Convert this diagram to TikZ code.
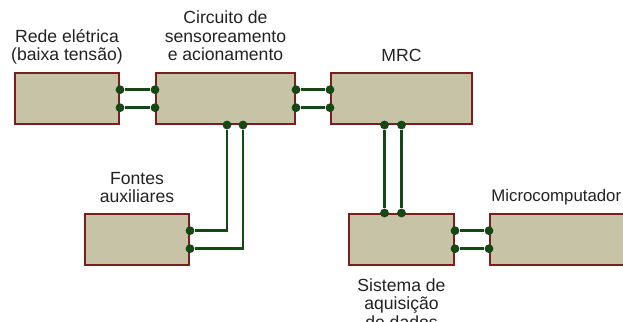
\documentclass[tikz,border=0pt]{standalone}
\usepackage{fontspec}
\setmainfont{Liberation Sans}
\usetikzlibrary{positioning}
\usepackage{xcolor}
\definecolor{khaki}{HTML}{C6C3A6}
\definecolor{maroon}{HTML}{7A1E1E}
\definecolor{wiregreen}{HTML}{164816}
\definecolor{inkgrey}{HTML}{222222}

\begin{document}
\begin{tikzpicture}[
  x=0.5pt, y=-0.5pt,
  block/.style={rectangle, draw=maroon, fill=khaki, line width=1pt,
    minimum height=25.5pt, inner sep=0pt},
  pin/.style={circle, fill=wiregreen, inner sep=0pt, minimum size=4.4pt},
  wire/.style={draw=wiregreen, line width=1.3pt},
  label/.style={font=\fontsize{8.8}{9.3}\selectfont, align=center,
    text=inkgrey, inner sep=0pt, text depth=0pt},
]
\useasboundingbox (0,0) rectangle (623,322);

% === Top row ===
\node[block, minimum width=52pt, anchor=north west] (rede) at (14,72) {};
\node[block, minimum width=69.5pt, right=17.5pt of rede] (circuito) {};
\node[block, minimum width=70.5pt, right=17pt of circuito] (mrc) {};

% === Bottom row ===
\node[block, minimum width=52pt, anchor=north west] (fontes) at (84,213) {};
\node[block, minimum width=52.5pt, anchor=north west] (aquisicao) at (348,213) {};
\node[block, minimum width=81pt, anchor=north west] (micro) at (489,213) {};

% === Labels ===
\node[label, above=5.5pt of rede] (lrede) {Rede elétrica\\(baixa tensão)};
\node[label, above=5.5pt of circuito] (lcircuito) {Circuito de\\sensoreamento\\e acionamento};
\node[label, above=5pt of mrc] (lmrc) {MRC};
\node[label, above=5pt of fontes] (lfontes) {Fontes\\auxiliares};
\node[label, font=\fontsize{8.4}{9.3}\selectfont, above=5.5pt of micro.north west,
  anchor=south west, xshift=1pt] (lmicro) {Microcomputador};
\node[label, below=6pt of aquisicao] (laquisicao) {Sistema de\\aquisição\\de dados};

% === Pins ===
\node[pin] (rede1) at ([yshift=4.4pt]rede.east) {};
\node[pin] (rede2) at ([yshift=-4.6pt]rede.east) {};
\node[pin] (circ1) at ([yshift=4.4pt]circuito.west) {};
\node[pin] (circ2) at ([yshift=-4.6pt]circuito.west) {};
\node[pin] (circ3) at ([yshift=4.4pt]circuito.east) {};
\node[pin] (circ4) at ([yshift=-4.6pt]circuito.east) {};
\node[pin] (circ5) at ([xshift=0.75pt]circuito.south) {};
\node[pin] (circ6) at ([xshift=8.75pt]circuito.south) {};
\node[pin] (mrc1) at ([yshift=4.4pt]mrc.west) {};
\node[pin] (mrc2) at ([yshift=-4.6pt]mrc.west) {};
\node[pin] (mrc3) at ([xshift=-8.5pt]mrc.south) {};
\node[pin] (mrc4) at (mrc.south) {};
\node[pin] (font1) at ([yshift=4.4pt]fontes.east) {};
\node[pin] (font2) at ([yshift=-4.6pt]fontes.east) {};
\node[pin] (aqui1) at ([xshift=-8.5pt]aquisicao.north) {};
\node[pin] (aqui2) at (aquisicao.north) {};
\node[pin] (aqui3) at ([yshift=4.4pt]aquisicao.east) {};
\node[pin] (aqui4) at ([yshift=-4.6pt]aquisicao.east) {};
\node[pin] (micro1) at ([yshift=4.4pt]micro.west) {};
\node[pin] (micro2) at ([yshift=-4.6pt]micro.west) {};

% === Wires ===
\draw[wire] (rede1) -- (circ1);
\draw[wire] (rede2) -- (circ2);
\draw[wire] (circ3) -- (mrc1);
\draw[wire] (circ4) -- (mrc2);
\draw[wire] (circ5) |- (font1);
\draw[wire] (circ6) |- (font2);
\draw[wire] (mrc3) -- (aqui1);
\draw[wire] (mrc4) -- (aqui2);
\draw[wire] (aqui3) -- (micro1);
\draw[wire] (aqui4) -- (micro2);
\end{tikzpicture}
\end{document}
